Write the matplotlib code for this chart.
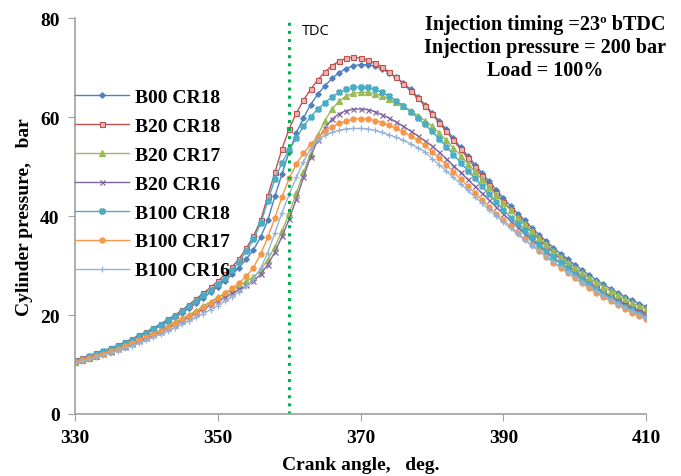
import matplotlib.pyplot as plt
import numpy as np

crank_angle = np.arange(330, 411)

b00_cr18 = [10.8, 11.2, 11.6, 12.1, 12.6, 13.1, 13.7, 14.3, 14.9, 15.6,
            16.3, 17.0, 17.8, 18.6, 19.5, 20.4, 21.4, 22.4, 23.5, 24.6,
            25.7, 26.9, 28.2, 29.6, 31.3, 33.2, 35.7, 39.1, 44.0, 48.5,
            53.0, 56.8, 59.8, 62.5, 64.6, 66.3, 67.8, 69.0, 69.8, 70.4,
            70.6, 70.6, 70.3, 69.7, 68.9, 68.0, 66.9, 65.6, 64.1, 62.5,
            60.9, 59.2, 57.5, 55.7, 53.9, 52.2, 50.4, 48.7, 47.0, 45.3,
            43.6, 42.0, 40.5, 39.1, 37.6, 36.2, 34.9, 33.6, 32.4, 31.3,
            30.2, 29.1, 28.1, 27.1, 26.2, 25.3, 24.5, 23.7, 23.0, 22.3, 21.7]

b20_cr18 = [10.9, 11.3, 11.8, 12.3, 12.8, 13.3, 13.9, 14.5, 15.2, 15.9,
            16.6, 17.4, 18.2, 19.1, 20.0, 21.0, 22.1, 23.3, 24.4, 25.6,
            26.8, 28.2, 29.7, 31.4, 33.5, 35.9, 39.1, 44.0, 48.8, 53.6,
            57.6, 60.8, 63.4, 65.6, 67.5, 69.1, 70.4, 71.3, 71.9, 72.1,
            71.9, 71.5, 70.9, 70.1, 69.1, 68.0, 66.7, 65.3, 63.8, 62.3,
            60.6, 58.9, 57.1, 55.3, 53.5, 51.7, 49.9, 48.1, 46.3, 44.6,
            42.9, 41.3, 39.7, 38.2, 36.7, 35.3, 33.9, 32.6, 31.3, 30.1,
            28.9, 27.8, 26.7, 25.7, 24.7, 23.8, 22.9, 22.1, 21.3, 20.6, 19.9]

b20_cr17 = [10.6, 11.0, 11.4, 11.8, 12.3, 12.8, 13.3, 13.8, 14.4, 15.0,
            15.6, 16.3, 17.0, 17.7, 18.5, 19.3, 20.1, 20.9, 21.8, 22.7,
            23.6, 24.4, 25.2, 26.0, 26.8, 27.7, 29.1, 31.2, 33.8, 37.0,
            40.6, 44.6, 48.8, 52.6, 56.3, 59.3, 61.6, 63.2, 64.3, 64.8,
            65.0, 65.0, 64.7, 64.3, 63.7, 63.0, 62.2, 61.3, 60.3, 59.3,
            58.2, 56.8, 55.3, 53.8, 52.2, 50.6, 49.0, 47.4, 45.8, 44.2,
            42.7, 41.2, 39.7, 38.3, 36.9, 35.6, 34.3, 33.0, 31.8, 30.6,
            29.5, 28.5, 27.5, 26.6, 25.7, 24.8, 24.0, 23.2, 22.5, 21.8, 21.2]

b20_cr16 = [10.5, 10.9, 11.3, 11.7, 12.1, 12.6, 13.1, 13.6, 14.1, 14.7,
            15.3, 15.9, 16.6, 17.3, 18.0, 18.8, 19.6, 20.4, 21.2, 22.0,
            22.8, 23.6, 24.4, 25.2, 26.0, 26.9, 28.2, 30.2, 32.7, 35.9,
            39.4, 43.4, 47.8, 52.0, 55.4, 57.8, 59.6, 60.7, 61.3, 61.6,
            61.6, 61.5, 61.1, 60.5, 59.8, 59.0, 58.1, 57.2, 56.2, 55.2,
            54.2, 52.9, 51.6, 50.2, 48.8, 47.4, 46.0, 44.6, 43.2, 41.8,
            40.4, 39.0, 37.7, 36.4, 35.1, 33.9, 32.7, 31.5, 30.4, 29.3,
            28.3, 27.3, 26.3, 25.4, 24.5, 23.7, 22.9, 22.2, 21.5, 20.9, 20.3]

b100_cr18 = [10.8, 11.2, 11.7, 12.2, 12.7, 13.2, 13.8, 14.4, 15.0, 15.7,
             16.4, 17.2, 18.0, 18.9, 19.8, 20.8, 21.8, 22.9, 24.0, 25.1,
             26.2, 27.5, 29.0, 30.8, 32.9, 35.3, 38.5, 43.0, 47.5, 50.8,
             53.4, 55.8, 58.1, 60.1, 61.6, 62.9, 64.1, 65.0, 65.6, 66.0,
             66.1, 66.0, 65.6, 65.0, 64.2, 63.3, 62.3, 61.1, 59.8, 58.5,
             57.1, 55.6, 54.0, 52.4, 50.8, 49.2, 47.6, 46.0, 44.4, 42.8,
             41.2, 39.7, 38.3, 36.9, 35.5, 34.2, 32.9, 31.7, 30.5, 29.4,
             28.3, 27.2, 26.2, 25.2, 24.3, 23.4, 22.5, 21.7, 21.0, 20.3, 19.6]

b100_cr17 = [10.5, 10.9, 11.3, 11.7, 12.2, 12.7, 13.2, 13.7, 14.3, 14.9,
             15.5, 16.1, 16.8, 17.5, 18.3, 19.1, 19.9, 20.7, 21.6, 22.5,
             23.4, 24.4, 25.4, 26.5, 27.8, 29.6, 32.3, 35.7, 39.6, 43.9,
             47.6, 50.5, 52.7, 54.5, 56.0, 57.1, 58.0, 58.7, 59.2, 59.6,
             59.7, 59.6, 59.3, 58.9, 58.3, 57.7, 57.0, 56.2, 55.3, 54.3,
             53.0, 51.7, 50.3, 48.9, 47.5, 46.1, 44.7, 43.3, 41.9, 40.5,
             39.2, 37.9, 36.6, 35.3, 34.1, 32.9, 31.7, 30.6, 29.5, 28.5,
             27.4, 26.4, 25.4, 24.5, 23.6, 22.8, 22.0, 21.2, 20.5, 19.8, 19.2]

b100_cr16 = [10.3, 10.7, 11.1, 11.5, 11.9, 12.3, 12.8, 13.3, 13.8, 14.3,
             14.9, 15.5, 16.1, 16.7, 17.4, 18.1, 18.8, 19.5, 20.3, 21.1,
             21.9, 22.8, 23.7, 24.7, 25.8, 27.3, 29.4, 32.6, 36.6, 40.7,
             44.4, 47.8, 51.0, 53.6, 55.3, 56.3, 56.9, 57.3, 57.6, 57.7,
             57.7, 57.6, 57.3, 56.9, 56.4, 55.9, 55.3, 54.6, 53.8, 53.0,
             51.6, 50.4, 49.1, 47.8, 46.5, 45.2, 43.9, 42.6, 41.3, 40.0,
             38.7, 37.5, 36.3, 35.1, 34.0, 32.9, 31.8, 30.7, 29.7, 28.7,
             27.6, 26.6, 25.7, 24.8, 23.9, 23.1, 22.3, 21.5, 20.8, 20.1, 19.4]

labels = ["B00 CR18", "B20 CR18", "B20 CR17", "B20 CR16",
          "B100 CR18", "B100 CR17", "B100 CR16"]
series = [b00_cr18, b20_cr18, b20_cr17, b20_cr16, b100_cr18, b100_cr17, b100_cr16]
colors = ["#4F81BD", "#C0504D", "#9BBB59", "#8064A2", "#4BACC6", "#F79646", "#95B3D7"]
markers = ["D", "s", "^", "x", "X", "o", "+"]
sizes = [2.8, 3.6, 3.8, 3.6, 3.8, 3.6, 4.2]

serif = "Liberation Serif"

fig = plt.figure(figsize=(6.81, 4.77), dpi=100)
ax = fig.add_axes([0.110, 0.130, 0.839, 0.830])

for y, lab, c, m, s in zip(series, labels, colors, markers, sizes):
    if m == "s":
        ax.plot(crank_angle, y, color=c, marker=m, markersize=s, lw=1.0,
                markerfacecolor="#E8B5B4", markeredgecolor=c, markeredgewidth=0.8, label=lab)
    else:
        ax.plot(crank_angle, y, color=c, marker=m, markersize=s, lw=1.0,
                markeredgewidth=0.9, label=lab)

ax.axvline(360, color="#00B050", ls=":", lw=2.2)
ax.text(361.8, 77.5, "TDC", fontsize=10.5, family="Open Sans", va="center")

ax.text(0.823, 1.01, "Injection timing =23º bTDC\nInjection pressure = 200 bar\nLoad = 100%",
        transform=ax.transAxes, ha="center", va="top", fontsize=14.5,
        fontweight="bold", family=serif, linespacing=1.2)

ax.set_xlim(330, 410)
ax.set_ylim(0, 80)
ax.set_xticks([330, 350, 370, 390, 410])
ax.set_yticks([0, 20, 40, 60, 80])
for lbl in ax.get_xticklabels() + ax.get_yticklabels():
    lbl.set_fontfamily(serif)
    lbl.set_fontweight("bold")
    lbl.set_fontsize(14)
ax.tick_params(axis="x", direction="out", length=5, color="#A0A0A0", pad=6)
ax.tick_params(axis="y", direction="out", length=5, color="#A0A0A0", pad=6)

for side in ["top", "right"]:
    ax.spines[side].set_visible(False)
for side in ["left", "bottom"]:
    ax.spines[side].set_color("#A0A0A0")
    ax.spines[side].set_linewidth(1.2)

ax.set_xlabel("Crank angle,   deg.", fontsize=14, fontweight="bold", family=serif, labelpad=7)
ax.set_ylabel("Cylinder pressure,   bar", fontsize=14, fontweight="bold", family=serif, labelpad=5)

ax.legend(loc="upper left", bbox_to_anchor=(-0.014, 0.842), frameon=False,
          prop={"family": serif, "weight": "bold", "size": 14},
          handlelength=2.8, handletextpad=0.3, labelspacing=0.58, borderaxespad=0)

fig.savefig("out.png", dpi=100)
